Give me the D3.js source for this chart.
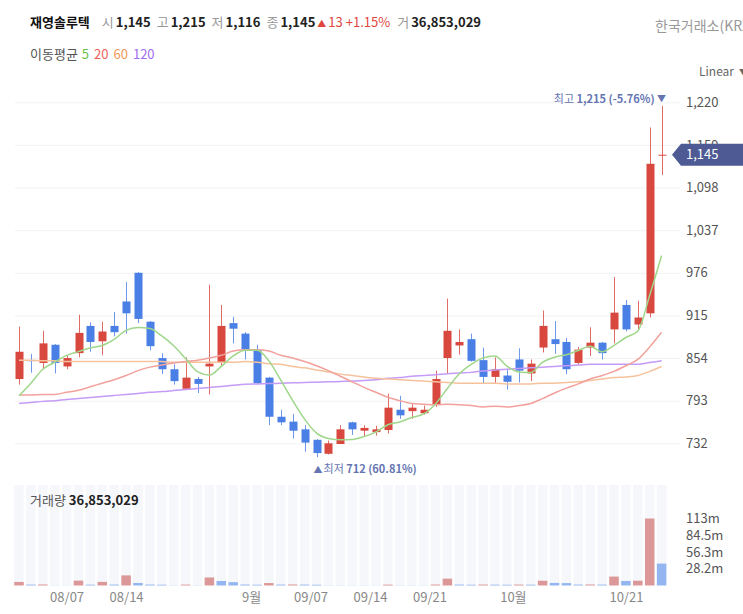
<!DOCTYPE html>
<html>
<head>
<meta charset="utf-8">
<script src="https://cdn.jsdelivr.net/npm/d3@7"></script>
<style>
body { margin: 0; background: #fff; }
svg text { font-family: "Noto Sans CJK KR", "Noto Sans", sans-serif; }
</style>
</head>
<body>
<svg id="chart" width="743" height="614"></svg>
<script>
// daily candles, 55 trading days
var opens  = [824,851,847,873,842,861,900,878,900,935, 976,906,854,838,810,824,842,847,904,889,
              866,826,770,763,752,737,717,731,762,750, 748,751,780,778,775,787,854,872,881,851,
              827,829,852,832,869,881,877,847,869,876, 895,930,902,918,1145];
var highs  = [899,860,893,874,858,916,905,906,920,963, 977,907,861,845,855,827,959,930,913,891,
              873,827,780,774,758,738,736,758,763,758, 757,803,800,788,786,836,939,895,889,869,
              855,837,868,852,922,907,883,870,898,877, 970,937,936,1184,1215];
var lows   = [816,833,839,832,838,855,863,858,885,889, 904,865,831,816,810,804,802,842,875,852,
              817,758,758,739,720,712,716,731,744,742, 743,746,767,767,773,784,831,859,849,818,
              817,809,819,821,862,860,831,845,857,852, 875,892,894,912,1116];
var closes = [863,850,875,847,854,890,877,892,891,918, 910,871,838,821,826,817,846,900,896,866,
              818,770,762,750,733,718,732,752,752,754, 752,783,772,783,780,824,893,877,850,827,
              838,820,836,846,900,874,838,866,876,861, 919,895,912,1132,1145];
var volumes = [6000000,1500000,1700000,300000,250000,8200000,1400000,6100000,1500000,17000000,
               4200000,1600000,1300000,300000,1500000,300000,13500000,7600000,5600000,1600000,
               1300000,4100000,1500000,1700000,1500000,1300000,400000,350000,300000,280000,
               260000,1500000,400000,350000,300000,1600000,11500000,1500000,1300000,1600000,
               1400000,1300000,1600000,1400000,8000000,4300000,4000000,1500000,1700000,1500000,
               15000000,7600000,8100000,112680000,36853029];
var prevClose = 1132;

// moving averages
var ma5   = [800,818,838,848,857.8,863.2,868.6,872,880.8,893.6, 897.6,896.4,885.6,871.6,853.2,834.6,829.6,842,857,865,
             865.2,850,822.4,793.2,766.6,746.6,739,737,737.4,741.6, 748.4,758.6,762.6,768.8,774,788.4,810.4,831.4,844.8,854.2,
             857,842.4,834.2,833.4,848,855.2,858.8,864.8,870.8,863, 872,883.4,892.6,943.8,1000.6];
var ma20  = [801,801,802,802,805,808,813,818,823,829, 836,841,844,847,849,851,854,858,864,866,
             866,864,858,854,849,843,836,828,820,812, 805,798,793,789,788,787,788,787,786,784,
             785,784,786,789,796,804,811,817,824,829, 835,843,852,870,891];
var ma60  = [851,851,850,850,849,849,849,849,849,849, 849,849,849,848,848,848,848,848,848,849,
             848,846,845,842,840,837,834,831,829,827, 825,824,823,822,821,820,819,818,818,818,
             818,817,817,817,818,818,819,820,822,824, 826,827,829,835,842];
var ma120 = [789,790.4,792,793,794.7,796,797.6,799,800.5,802, 803.4,805,806,807.5,809,810.5,812,813.4,815,816.5,
             817,817.5,818,818.5,819,819.5,820,820.5,821,822, 823,825,826,828,829,830,831.5,832.5,833.5,835.5,
             837,838,839,840,841,842,843,844,845,845, 845,845,845,847.5,850];

var priceTicks = [732, 793, 854, 915, 976, 1037, 1098, 1159, 1220];
var volTicks = [28170000, 56340000, 84510000, 112680000];
var dateLabels = ["08/07", "08/14", "9월", "09/07", "09/14", "09/21", "10월", "10/21"];
var datePos = [4, 9, 19.5, 24.5, 29.5, 34.5, 41.5, 51];

var maList = [
  {name: "5", vals: ma5, line: "#9fd78a", legend: "#6cc24a"},
  {name: "20", vals: ma20, line: "#f2a19c", legend: "#ef5f58"},
  {name: "60", vals: ma60, line: "#f6c29c", legend: "#f0985a"},
  {name: "120", vals: ma120, line: "#c49bf6", legend: "#a06cf2"}
];

var RED = "#d8483f", BLUE = "#4a7fe6";
var n = closes.length;
var svg = d3.select("#chart");

var x = d3.scaleLinear().domain([0, n - 1]).range([19, 661.6]);
var step = x(1) - x(0);
var y = d3.scaleLinear().domain([732, 1220]).range([443.3, 102.3]);
var yv = d3.scaleLinear().domain([0, 112680000]).range([585.5, 518.5]);

function dirColor(i) {
  if (closes[i] > opens[i]) return RED;
  if (closes[i] < opens[i]) return BLUE;
  var p = i > 0 ? closes[i - 1] : prevClose;
  return closes[i] >= p ? RED : BLUE;
}

// grid
svg.append("g")
  .attr("transform", "translate(680,0)")
  .call(d3.axisLeft(y).tickValues(priceTicks).tickSize(665).tickFormat(""))
  .call(function(g){ g.select(".domain").remove(); g.selectAll("line").attr("stroke", "#f1f2f4"); });

// volume slot backgrounds
svg.append("g").selectAll("rect").data(d3.range(n)).enter().append("rect")
  .attr("x", function(i){ return x(i) - step * 0.4; })
  .attr("width", step * 0.8)
  .attr("y", 485)
  .attr("height", 100)
  .attr("fill", "#f5f7fb");

// volume bars (colour = volume up / down vs previous day)
svg.append("g").selectAll("rect").data(d3.range(n)).enter().append("rect")
  .attr("x", function(i){ return x(i) - step * 0.4; })
  .attr("width", step * 0.8)
  .attr("y", function(i){ return yv(volumes[i]); })
  .attr("height", function(i){ return yv(0) - yv(volumes[i]); })
  .attr("fill", function(i){ return (i === 0 || volumes[i] >= volumes[i - 1]) ? "#dc9898" : "#93b6f0"; });

// candles
var cg = svg.append("g");
cg.selectAll("line").data(d3.range(n)).enter().append("line")
  .attr("x1", function(i){ return Math.round(x(i)) + 0.5; })
  .attr("x2", function(i){ return Math.round(x(i)) + 0.5; })
  .attr("y1", function(i){ return y(highs[i]); })
  .attr("y2", function(i){ return y(lows[i]); })
  .attr("stroke", dirColor)
  .attr("stroke-opacity", 0.8)
  .attr("stroke-width", 1);
cg.selectAll("rect").data(d3.range(n)).enter().append("rect")
  .attr("x", function(i){ return Math.round(x(i)) + 0.5 - 4; })
  .attr("width", 8)
  .attr("y", function(i){ return y(Math.max(opens[i], closes[i])); })
  .attr("height", function(i){ return Math.max(1, Math.abs(y(opens[i]) - y(closes[i]))); })
  .attr("fill", dirColor);

// moving averages
var line = d3.line().x(function(d, i){ return x(i); }).y(function(d){ return y(d); }).curve(d3.curveMonotoneX);
maList.slice().reverse().forEach(function(m){
  svg.append("path").datum(m.vals)
    .attr("d", line)
    .attr("fill", "none")
    .attr("stroke", m.line)
    .attr("stroke-width", 1.5);
});

// price axis labels
svg.append("g")
  .attr("transform", "translate(680,0)")
  .call(d3.axisRight(y).tickValues(priceTicks).tickSize(0).tickPadding(6).tickFormat(d3.format(",")))
  .call(function(g){
    g.select(".domain").remove();
    g.selectAll("text").attr("fill", "#555").attr("font-size", 13);
  });

// current price tag
var last = n - 1, ty = y(closes[last]);
svg.append("path")
  .attr("d", d3.line()([[672, ty], [681, ty - 11], [743, ty - 11], [743, ty + 11], [681, ty + 11]]) + "Z")
  .attr("fill", "#4e5a94");
svg.append("text").attr("x", 686).attr("y", ty + 4.5)
  .attr("fill", "#fff").attr("font-size", 13).text(d3.format(",")(closes[last]));

// high / low markers
var hiIdx = d3.maxIndex(highs), loIdx = d3.minIndex(lows);
var pct = function(v){ return d3.format(".2f")(v).replace("−", "-"); };
var hiT = svg.append("text").attr("x", x(hiIdx) - 7).attr("y", y(highs[hiIdx]) - 3)
  .attr("text-anchor", "end").attr("fill", "#6575b2").attr("font-size", 11);
hiT.append("tspan").text("최고 ");
hiT.append("tspan").attr("font-weight", "bold")
  .text(d3.format(",")(highs[hiIdx]) + " (" + pct((closes[last] / highs[hiIdx] - 1) * 100) + "%)");
svg.append("text").attr("x", x(hiIdx)).attr("y", y(highs[hiIdx]) - 4)
  .attr("text-anchor", "middle").attr("fill", "#6575b2").attr("font-size", 9).text("▼");

var loT = svg.append("text").attr("x", x(loIdx) - 3).attr("y", y(lows[loIdx]) + 16)
  .attr("fill", "#6575b2").attr("font-size", 11);
loT.append("tspan").attr("font-size", 9).text("▲");
loT.append("tspan").attr("dx", 1).text("최저 ");
loT.append("tspan").attr("font-weight", "bold")
  .text(d3.format(",")(lows[loIdx]) + " (" + pct((closes[last] / lows[loIdx] - 1) * 100) + "%)");

// volume axis
svg.append("g")
  .attr("transform", "translate(680,0)")
  .call(d3.axisRight(yv).tickValues(volTicks).tickSize(0).tickPadding(6)
    .tickFormat(function(d){ return d3.format(".3")(d / 1e6) + "m"; }))
  .call(function(g){
    g.select(".domain").remove();
    g.selectAll("text").attr("fill", "#555").attr("font-size", 13);
  });

// date axis
svg.append("g")
  .attr("transform", "translate(0,585)")
  .call(d3.axisBottom(x).tickValues(datePos).tickSize(0).tickPadding(8)
    .tickFormat(function(d, i){ return dateLabels[i]; }))
  .call(function(g){
    g.select(".domain").remove();
    g.selectAll("text").attr("fill", "#888").attr("font-size", 13);
  });

// volume caption
var vt = svg.append("text").attr("x", 30).attr("y", 505).attr("font-size", 13);
vt.append("tspan").attr("fill", "#555").text("거래량 ");
vt.append("tspan").attr("fill", "#222").attr("font-weight", "bold").text(d3.format(",")(volumes[last]));

// header
var fmt = d3.format(",");
var h = svg.append("text").attr("x", 30).attr("y", 27).attr("font-size", 13);
h.append("tspan").attr("font-weight", "bold").attr("fill", "#111").text("재영솔루텍");
var fields = [["시", opens[last]], ["고", highs[last]], ["저", lows[last]], ["종", closes[last]]];
fields.forEach(function(f, k){
  h.append("tspan").attr("dx", k === 0 ? 12 : 6).attr("fill", "#999").text(f[0]);
  h.append("tspan").attr("dx", 2).attr("fill", "#222").attr("font-weight", "bold").text(fmt(f[1]));
});
var chg = closes[last] - prevClose;
h.append("tspan").attr("dx", 2).attr("fill", "#e0453e").attr("font-size", 9).text("▲");
h.append("tspan").attr("dx", 2).attr("fill", "#e0453e").text(chg);
h.append("tspan").attr("dx", 3).attr("fill", "#e0453e").text("+" + pct(chg / prevClose * 100) + "%");
h.append("tspan").attr("dx", 7).attr("fill", "#999").text("거");
h.append("tspan").attr("dx", 2).attr("fill", "#222").attr("font-weight", "bold").text(fmt(volumes[last]));

svg.append("text").attr("x", 655).attr("y", 31).attr("font-size", 14).attr("fill", "#999").text("한국거래소(KRX)");

var lg = svg.append("text").attr("x", 30).attr("y", 59).attr("font-size", 13);
lg.append("tspan").attr("fill", "#555").text("이동평균");
maList.forEach(function(m, k){
  lg.append("tspan").attr("dx", k === 0 ? 4 : 5).attr("fill", m.legend).text(m.name);
});

svg.append("text").attr("x", 699).attr("y", 76).attr("font-size", 12).attr("fill", "#666").text("Linear");
svg.append("text").attr("x", 739).attr("y", 75).attr("font-size", 8).attr("fill", "#666").text("▼");
</script>
</body>
</html>
